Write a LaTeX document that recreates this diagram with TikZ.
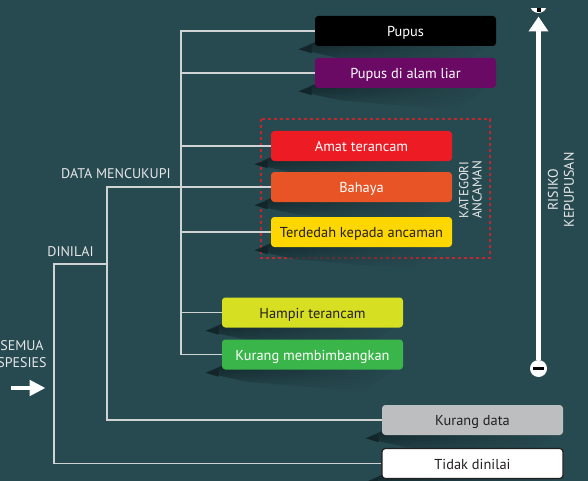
\documentclass[tikz,border=0pt]{standalone}
\usepackage{fontspec}
\setmainfont{PT Sans}
\usetikzlibrary{arrows.meta,calc,fadings}

\definecolor{bgteal}{RGB}{39,73,80}
\definecolor{shadowc}{RGB}{18,38,42}
\definecolor{linegray}{RGB}{208,211,212}
\definecolor{labelgray}{RGB}{230,231,232}
\definecolor{inkdark}{RGB}{35,31,32}
\definecolor{cPurple}{RGB}{107,10,101}
\definecolor{cRed}{RGB}{237,28,36}
\definecolor{cOrange}{RGB}{232,84,37}
\definecolor{cYellow}{RGB}{255,215,0}
\definecolor{cLime}{RGB}{215,223,35}
\definecolor{cGreen}{RGB}{57,181,74}
\definecolor{cGray}{RGB}{188,190,192}
\definecolor{cDash}{RGB}{193,39,45}

\pgfdeclarelayer{bglayer}
\pgfdeclarelayer{shadowlayer}
\pgfsetlayers{bglayer,shadowlayer,main}

\tikzset{every picture/.style={line width=0.75pt}}
\tikzset{
  catbox/.style={rectangle, rounded corners=2.5pt, minimum width=135.75pt, minimum height=22.5pt,
    inner sep=0pt, text height=8.6pt, text depth=0pt, text=white, font=\fontsize{10.8}{12}\selectfont},
  darktext/.style={text=inkdark},
  link/.style={draw=linegray, line width=1.1pt},
  caps/.style={text=labelgray, inner sep=0.75pt, font=\fontsize{10.5}{12}\selectfont, align=center},
  riskarrow/.style={draw=white, line width=3.4pt, -{Triangle[length=11.25pt,width=14.25pt]}},
}

% soft shadow under a box
\newcommand{\boxshadow}[1]{%
  \shade [top color=shadowc, bottom color=bgteal, path fading=east]
    ($(#1.south west)+(-16,3)$) -- ($(#1.south west)+(0,-4)$) -- ($(#1.south east)+(-4,-4)$)
    -- ($(#1.south east)+(-40,22)$) -- ($(#1.south west)+(25,12)$) -- cycle;
  \fill [shadowc] ($(#1.south west)+(-16,3)$) -- ($(#1.south west)+(-3,-1)$) -- ($(#1.south west)+(-3,7)$) -- cycle;
}

\begin{document}
\begin{tikzpicture}[x=0.75pt,y=0.75pt,yscale=-1,xscale=1]
\useasboundingbox (0,0) rectangle (588,481);

\begin{pgfonlayer}{bglayer}
\fill [bgteal] (0,0) rectangle (588,481);
%Shape: Dashed Rect [threat categories]
\draw [cDash, dashed, dash pattern=on 2.5pt off 2pt, line width=0.8pt] (261,119) rectangle (490,258);
\end{pgfonlayer}

% Category Nodes
\node [catbox, fill=black] (pupus) at (405.5,31) {Pupus};
\node [catbox, fill=cPurple] (liar) at (405.5,73) {Pupus di alam liar};
\node [catbox, fill=cRed] (amat) at (361.5,146) {Amat terancam};
\node [catbox, fill=cOrange] (bahaya) at (361.5,187) {Bahaya};
\node [catbox, fill=cYellow, darktext] (terdedah) at (361.5,232) {Terdedah kepada ancaman};
\node [catbox, fill=cLime, darktext] (hampir) at (312.5,312.5) {Hampir terancam};
\node [catbox, fill=cGreen] (kurang) at (312.5,354.5) {Kurang membimbangkan};
\node [catbox, fill=cGray, darktext] (kdata) at (472.5,420) {Kurang data};
\node [catbox, fill=white, draw=inkdark, line width=0.9pt, darktext] (tdnl) at (472.5,463.5) {Tidak dinilai};

\begin{pgfonlayer}{shadowlayer}
\foreach \b in {pupus,liar,amat,bahaya,terdedah,hampir,kurang,kdata,tdnl}
  {\boxshadow{\b}}
\end{pgfonlayer}

% Branch points
\coordinate (hub) at (181,187);
\coordinate (dn) at (107,264);
\coordinate (root) at (54,264);

%Straight Lines [tree]
\draw [link] (hub) |- (pupus.west);
\draw [link] (hub) |- (liar.west);
\draw [link] (hub) |- (amat.west);
\draw [link] (hub) -- (bahaya.west);
\draw [link] (hub) |- (terdedah.west);
\draw [link] (hub) |- (hampir.west);
\draw [link] (hub) |- (kurang.west);
\draw [link] (dn) |- (hub);
\draw [link] (dn) |- (kdata.west);
\draw [link] (dn) -- (root) |- (tdnl.west);

% Text Node
\node [caps] (datam) at (116,174) {DATA MENCUKUPI};
% Text Node
\node [caps] (dinilai) at (70.5,252) {DINILAI};
% Text Node
\node [caps, font=\fontsize{10.5}{12.8}\selectfont] (semua) at (22,354.5) {SEMUA\\SPESIES};
% Text Node
\node [caps, rotate=90, font=\fontsize{9.8}{10}\selectfont] (kategori) at (470.5,190) {KATEGORI\\ANCAMAN};
% Text Node
\node [caps, rotate=90] (risiko) at (561,190) {RISIKO\\KEPUPUSAN};

%Shape: Arrow [entry]
\coordinate (ain) at (11,388);
\coordinate (aout) at (45.5,388);
\draw [white, line width=3pt, -{Triangle[length=12pt,width=11.5pt]}] (ain) -- (aout);

%Shape: Risk scale
\node [circle, fill=white, inner sep=0pt, minimum size=12.75pt] (lo) at (538.5,368.5) {};
\fill [black] ($(lo.center)+(-5.5,-1.5)$) rectangle ($(lo.center)+(5.5,1.5)$);
\coordinate (hi) at (538.5,16.5);
\draw [riskarrow] (lo.north) -- (hi);
\begin{scope}
  \clip (520,8.7) rectangle (560,20);
  \fill [white] (538.5,4.5) circle (8.5);
  \fill [black] (537.3,0) rectangle (540.7,11.7);
\end{scope}

\end{tikzpicture}
\end{document}
